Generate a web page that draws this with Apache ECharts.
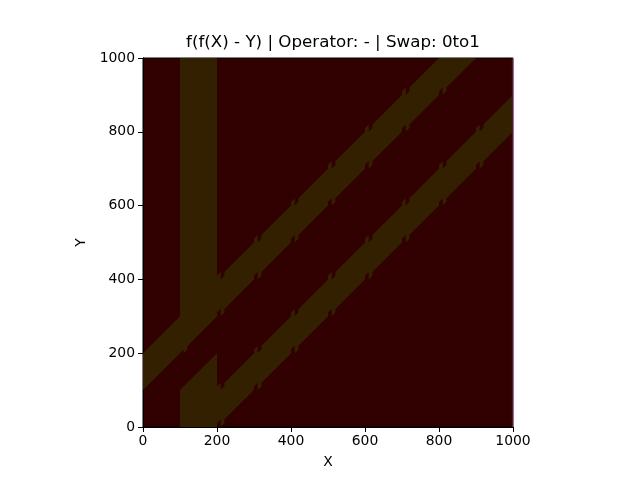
<!DOCTYPE html>
<html>
<head>
<meta charset="utf-8">
<script src="https://cdn.jsdelivr.net/npm/echarts@6/dist/echarts.min.js"></script>
<style>html,body{margin:0;padding:0;background:#fff}#c{width:640px;height:480px}</style>
</head>
<body>
<div id="c"></div>
<script>
// ---- data ----
const xTicks = [0, 200, 400, 600, 800, 1000];
const yTicks = [0, 200, 400, 600, 800, 1000];
// diagonal bands: Y in [X + lo, X + hi], over X range
const upperBand = { lo: 100, hi: 200, xMin: 0, xMax: 900 };
const lowerBand = { lo: -200, hi: -100, xMin: 200, xMax: 1000 };
// extra regions (polygons in data coordinates)
const verticalStrip = [[100, 200], [200, 300], [200, 1000], [100, 1000]];
const lowerWedge = [[100, 0], [200, 0], [200, 200], [100, 100]];
const edgeColumn = [[997, 0], [1000, 0], [1000, 1000], [997, 1000]];
// notch columns where bands are shifted: [start, end, shift]
const notches = [
  [100,110,10],[110,120,-10],[200,210,10],[210,220,-10],[300,310,10],[310,320,-10],
  [400,410,10],[410,420,-10],[500,510,10],[510,520,-10],[600,610,10],[610,620,-10],
  [700,710,10],[710,720,-10],[800,810,10],[810,820,-10],[900,910,10],[910,920,-10]
];
const bgColor = '#310000';
const bandColor = '#322000';
const edgeColor = '#6a0c3e';

function edgePoints(c, xMin, xMax) {
  const pts = [];
  let x = xMin;
  const segs = notches.filter(n => n[1] > xMin && n[0] < xMax);
  for (const [a, b, s] of segs) {
    const aa = Math.max(a, xMin), bb = Math.min(b, xMax);
    if (aa > x) { pts.push([x, x + c]); pts.push([aa, aa + c]); }
    pts.push([aa, aa + c + s]); pts.push([bb, bb + c + s]);
    x = bb;
  }
  if (x < xMax) { pts.push([x, x + c]); pts.push([xMax, xMax + c]); }
  return pts;
}
function bandPolygon(b) {
  const low = edgePoints(b.lo, b.xMin, b.xMax);
  const high = edgePoints(b.hi, b.xMin, b.xMax).reverse();
  return low.concat(high);
}

const polygons = [
  { pts: bandPolygon(upperBand), color: bandColor },
  { pts: verticalStrip, color: bandColor },
  { pts: lowerWedge, color: bandColor },
  { pts: bandPolygon(lowerBand), color: bandColor },
  { pts: edgeColumn, color: edgeColor }
];

const chart = echarts.init(document.getElementById('c'), null, { renderer: 'canvas' });
const font = 'DejaVu Sans';
chart.setOption({
  animation: false,
  backgroundColor: '#fff',
  title: {
    text: 'f(f(X) - Y) | Operator: - | Swap: 0to1',
    left: 328, top: 29, textAlign: 'center',
    textStyle: { fontFamily: font, fontSize: 16.7, fontWeight: 'normal', color: '#000' }
  },
  grid: { left: 143, right: 127, top: 58, bottom: 53, show: true, borderColor: '#000', borderWidth: 1, backgroundColor: bgColor },
  xAxis: {
    type: 'value', min: 0, max: 1000, interval: 200,
    name: 'X', nameLocation: 'middle', nameGap: 28,
    nameTextStyle: { fontFamily: font, fontSize: 13.9, color: '#000' },
    axisLine: { show: true, lineStyle: { color: '#000', width: 1 } },
    axisTick: { show: true, length: 5, lineStyle: { color: '#000' } },
    axisLabel: { fontFamily: font, fontSize: 13.9, color: '#000', margin: 7,
      formatter: v => xTicks.includes(v) ? String(v) : '' },
    splitLine: { show: false }
  },
  yAxis: {
    type: 'value', min: 0, max: 1000, interval: 200,
    name: 'Y', nameLocation: 'middle', nameGap: 50, nameRotate: 90,
    nameTextStyle: { fontFamily: font, fontSize: 13.9, color: '#000' },
    axisLine: { show: true, lineStyle: { color: '#000', width: 1 } },
    axisTick: { show: true, length: 5, lineStyle: { color: '#000' } },
    axisLabel: { fontFamily: font, fontSize: 13.9, color: '#000', margin: 8,
      formatter: v => yTicks.includes(v) ? String(v) : '' },
    splitLine: { show: false }
  },
  series: [{
    type: 'custom',
    clip: true,
    data: polygons.map((p, i) => [i]),
    renderItem: function (params, api) {
      const p = polygons[params.dataIndex];
      const pts = p.pts.map(v => api.coord(v));
      return {
        type: 'polygon',
        shape: { points: pts },
        style: { fill: p.color, stroke: null }
      };
    },
    z: 1
  }]
});
</script>
</body>
</html>
